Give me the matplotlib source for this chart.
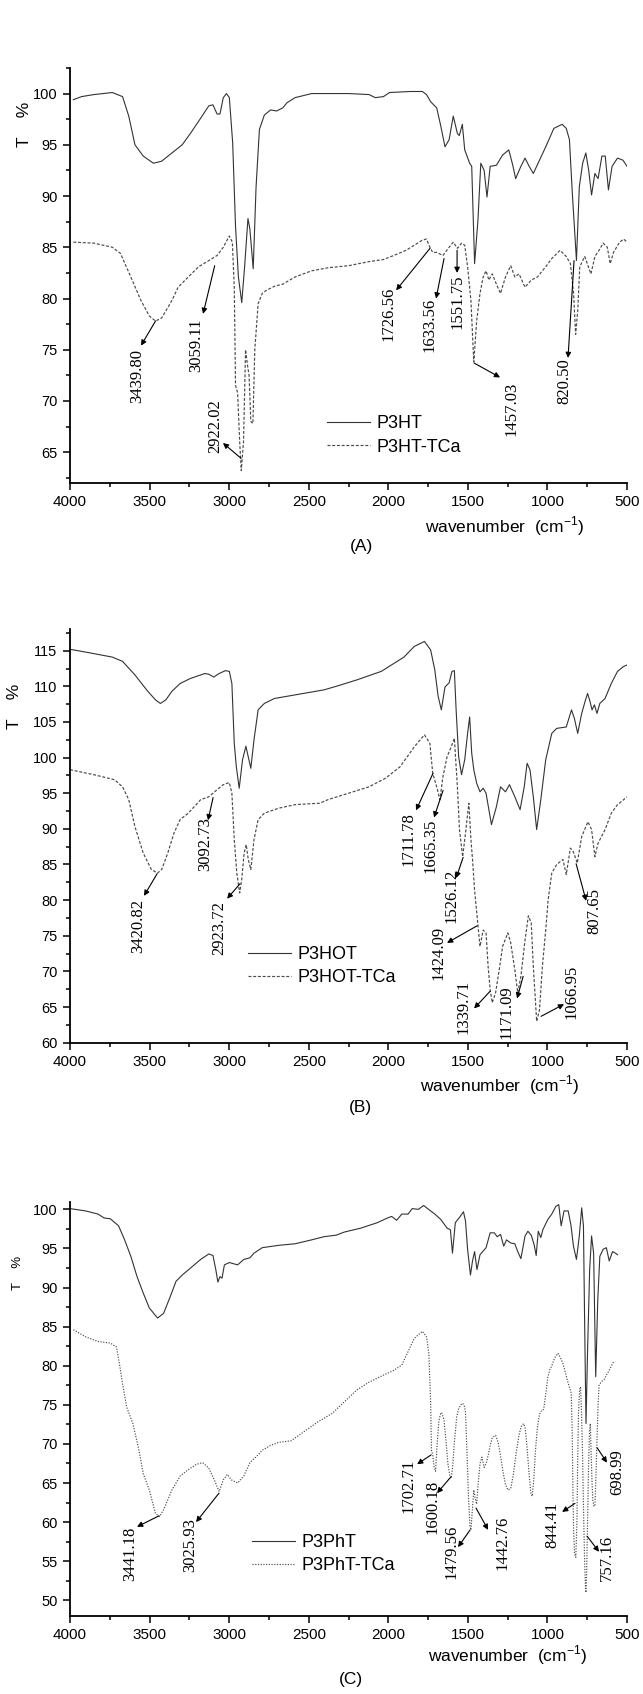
import matplotlib
matplotlib.use('Agg')
import matplotlib.pyplot as plt
from matplotlib.ticker import MultipleLocator

plt.rcParams['font.family'] = ['Liberation Sans', 'DejaVu Sans']
plt.rcParams['mathtext.fontset'] = 'custom'
plt.rcParams['mathtext.rm'] = 'Liberation Sans'

# ---------------- panel A : P3HT ----------------
p3ht = [(3979, 99.4), (3928, 99.7), (3850, 99.9), (3734, 100.1), (3670, 99.7), (3631, 97.8),
        (3592, 95.0), (3540, 93.9), (3476, 93.2), (3424, 93.4), (3360, 94.2), (3295, 95.0),
        (3244, 96.1), (3179, 97.6), (3128, 98.8), (3102, 98.9), (3076, 98.0), (3058, 98.0),
        (3037, 99.6), (3017, 100.0), (2999, 99.6), (2978, 95.2), (2960, 87.0), (2942, 82.1),
        (2921, 79.6), (2903, 83.1), (2882, 87.8), (2870, 86.8), (2849, 82.9), (2831, 90.9),
        (2810, 96.5), (2779, 97.9), (2740, 98.4), (2702, 98.3), (2663, 98.6), (2637, 99.1),
        (2586, 99.6), (2482, 100.0), (2250, 100.0), (2121, 99.9), (2082, 99.6), (2031, 99.7),
        (1992, 100.1), (1863, 100.2), (1786, 100.2), (1760, 99.9), (1734, 99.2), (1696, 98.6),
        (1670, 96.8), (1644, 94.8), (1618, 95.5), (1592, 97.8), (1566, 96.1), (1554, 95.9),
        (1535, 97.0), (1520, 94.5), (1489, 93.2), (1476, 92.9), (1458, 83.4), (1437, 87.6),
        (1419, 93.2), (1398, 92.5), (1380, 89.9), (1360, 92.9), (1321, 93.0), (1282, 94.0),
        (1243, 94.5), (1218, 93.0), (1200, 91.7), (1167, 92.9), (1141, 93.7), (1115, 92.9),
        (1089, 92.2), (1050, 93.5), (1011, 94.8), (960, 96.6), (934, 96.8), (908, 97.0),
        (882, 96.6), (862, 95.5), (844, 90.3), (818, 83.7), (800, 90.9), (779, 93.2),
        (759, 94.2), (741, 92.5), (723, 90.1), (702, 92.2), (682, 91.7), (658, 93.9),
        (637, 93.9), (617, 90.6), (594, 92.9), (560, 93.7), (526, 93.5), (500, 92.9)]

p3ht_tca = [(3979, 85.5), (3850, 85.4), (3734, 85.0), (3683, 84.4), (3618, 82.1), (3554, 79.8),
            (3502, 78.3), (3463, 77.8), (3424, 78.1), (3360, 79.8), (3321, 81.1), (3257, 82.1),
            (3192, 83.1), (3128, 83.7), (3076, 84.2), (3037, 85.0), (2999, 86.1), (2980, 85.5),
            (2968, 81.1), (2960, 71.5), (2947, 70.8), (2934, 66.0), (2924, 63.2), (2910, 66.0),
            (2897, 75.0), (2885, 73.5), (2875, 72.5), (2864, 68.0), (2851, 67.8), (2839, 75.0),
            (2818, 79.5), (2792, 80.5), (2766, 80.8), (2715, 81.2), (2663, 81.4), (2586, 82.1),
            (2482, 82.7), (2379, 83.0), (2250, 83.2), (2121, 83.6), (2031, 83.8), (1966, 84.2),
            (1889, 84.7), (1837, 85.2), (1786, 85.7), (1760, 85.8), (1739, 85.0), (1721, 84.5),
            (1696, 84.5), (1657, 84.2), (1618, 85.0), (1592, 85.5), (1566, 84.9), (1540, 85.4),
            (1520, 85.2), (1502, 83.1), (1481, 79.8), (1463, 73.8), (1445, 77.8), (1424, 80.5),
            (1404, 82.1), (1386, 82.7), (1368, 81.8), (1347, 82.4), (1321, 81.4), (1295, 80.5),
            (1264, 82.1), (1231, 83.2), (1205, 82.1), (1179, 82.4), (1141, 81.1), (1102, 81.8),
            (1063, 82.1), (1011, 83.1), (973, 83.9), (921, 84.7), (882, 84.1), (856, 83.4),
            (836, 80.5), (823, 76.5), (810, 78.8), (797, 83.1), (766, 84.1), (727, 82.4),
            (702, 84.1), (676, 84.7), (650, 85.4), (624, 85.0), (606, 83.4), (585, 84.5),
            (547, 85.5), (521, 85.8), (500, 85.5)]

a_labels = ['3439.80', '3059.11', '2922.02', '1726.56', '1633.56', '1551.75', '1457.03', '820.50']
a_peaks = [(3463, 77.8), (3091, 83.2), (2925, 64.4), (1738, 84.9), (1650, 83.9), (1568, 84.7),
           (1461, 73.7), (833, 83.7)]
a_tips = [(3554, 75.4), (3164, 78.5), (3039, 65.9), (1951, 80.8), (1700, 80.0), (1568, 82.5),
          (1298, 72.3), (871, 74.2)]
a_texts = [(3579, 72.4), (3208, 75.4), (3089, 67.5), (2002, 78.5), (1744, 77.4), (1568, 79.7),
           (1229, 69.2), (896, 71.9)]

# ---------------- panel B : P3HOT ----------------
p3hot = [(4000, 115.2), (3876, 114.7), (3734, 114.1), (3670, 113.5), (3592, 111.6), (3515, 109.4),
         (3463, 108.1), (3432, 107.6), (3398, 108.1), (3360, 109.3), (3308, 110.4), (3244, 111.1),
         (3153, 111.8), (3128, 111.7), (3097, 111.3), (3063, 111.8), (3024, 112.2), (2999, 112.1),
         (2983, 110.4), (2968, 102.0), (2955, 98.7), (2937, 95.7), (2916, 99.7), (2895, 101.6),
         (2880, 100.1), (2864, 98.5), (2844, 102.5), (2818, 106.7), (2779, 107.6), (2715, 108.3),
         (2637, 108.6), (2534, 109.0), (2405, 109.5), (2328, 110.0), (2198, 110.9), (2044, 112.1),
         (1902, 114.1), (1837, 115.6), (1773, 116.3), (1734, 115.1), (1708, 112.3), (1687, 108.6),
         (1667, 106.7), (1644, 109.9), (1618, 110.5), (1600, 112.1), (1585, 112.2), (1574, 106.7),
         (1558, 100.1), (1540, 97.6), (1520, 99.7), (1502, 103.4), (1489, 105.7), (1476, 100.6),
         (1463, 98.3), (1445, 96.4), (1424, 95.2), (1404, 95.7), (1386, 95.0), (1352, 90.6),
         (1321, 93.1), (1295, 95.9), (1264, 95.2), (1239, 96.2), (1205, 94.5), (1172, 92.7),
         (1146, 95.9), (1128, 99.2), (1110, 98.3), (1089, 94.5), (1068, 89.9), (1042, 94.1),
         (1011, 99.7), (973, 103.4), (942, 104.1), (882, 104.3), (849, 106.7), (831, 105.5),
         (810, 103.4), (785, 106.2), (761, 108.1), (748, 109.0), (733, 107.9), (720, 106.7),
         (705, 107.4), (689, 106.2), (671, 107.6), (638, 108.3), (599, 110.4), (560, 112.1),
         (521, 112.8), (500, 113.0)]

p3hot_tca = [(4000, 98.3), (3850, 97.6), (3721, 96.9), (3670, 95.9), (3631, 94.1), (3592, 90.3),
             (3540, 86.6), (3489, 84.3), (3450, 83.8), (3424, 84.3), (3386, 86.6), (3347, 89.4),
             (3308, 91.3), (3257, 92.2), (3179, 94.1), (3128, 94.5), (3076, 95.5), (3037, 96.2),
             (2999, 96.5), (2983, 95.0), (2968, 88.5), (2952, 83.8), (2934, 81.0), (2921, 82.9),
             (2906, 86.6), (2893, 87.8), (2880, 85.7), (2864, 84.3), (2844, 88.5), (2818, 91.3),
             (2779, 92.2), (2689, 92.9), (2586, 93.4), (2431, 93.6), (2379, 94.1), (2250, 95.0),
             (2121, 95.9), (2018, 97.1), (1927, 98.7), (1837, 101.5), (1773, 103.2), (1739, 102.0),
             (1721, 97.8), (1696, 95.9), (1676, 94.1), (1657, 97.3), (1631, 100.1), (1605, 101.5),
             (1585, 102.7), (1566, 95.9), (1553, 89.9), (1533, 86.1), (1515, 89.4), (1494, 93.6),
             (1481, 88.5), (1471, 85.7), (1458, 81.4), (1437, 76.5), (1424, 73.5), (1404, 75.8),
             (1386, 75.4), (1373, 70.7), (1360, 67.4), (1347, 65.6), (1326, 67.0), (1300, 70.7),
             (1282, 73.5), (1249, 75.4), (1231, 74.0), (1205, 70.2), (1187, 67.0), (1167, 69.3),
             (1141, 74.4), (1120, 77.8), (1102, 76.8), (1089, 70.7), (1068, 63.0), (1050, 64.6),
             (1032, 70.7), (1011, 75.8), (996, 80.0), (973, 83.8), (942, 85.0), (903, 85.7),
             (882, 83.6), (856, 87.3), (838, 86.8), (813, 85.2), (785, 88.9), (746, 91.0),
             (723, 89.9), (702, 86.1), (682, 88.0), (638, 89.9), (599, 92.2), (560, 93.4),
             (521, 94.1), (500, 94.5)]

b_labels = ['3420.82', '3092.73', '2923.72', '1711.78', '1665.35', '1526.12', '1424.09',
            '1339.71', '1171.09', '1066.95', '807.65']
b_peaks = [(3453, 83.7), (3101, 94.4), (2932, 82.3), (1719, 97.8), (1656, 95.4), (1530, 86.0),
           (1442, 76.4), (1361, 67.2), (1153, 69.3), (1040, 63.7), (820, 85.1)]
b_tips = [(3535, 80.6), (3133, 91.2), (3013, 80.2), (1826, 92.6), (1713, 91.6), (1574, 83.1),
          (1631, 74.0), (1461, 64.8), (1191, 66.2), (896, 65.4), (757, 79.9)]
b_texts = [(3573, 76.4), (3152, 87.8), (3064, 76.1), (1876, 88.5), (1738, 87.6), (1606, 80.6),
           (1687, 72.6), (1530, 65.0), (1260, 64.3), (852, 67.1), (707, 78.5)]

# ---------------- panel C : P3PhT ----------------
p3pht = [(4000, 100.1), (3902, 99.8), (3824, 99.4), (3786, 98.9), (3747, 98.8), (3695, 97.9),
         (3657, 96.1), (3618, 94.0), (3579, 91.4), (3540, 89.3), (3502, 87.4), (3450, 86.1),
         (3412, 86.7), (3373, 88.7), (3334, 90.8), (3295, 91.6), (3231, 92.7), (3179, 93.6),
         (3128, 94.3), (3102, 94.1), (3084, 92.3), (3071, 90.7), (3058, 91.4), (3045, 91.2),
         (3030, 92.9), (2999, 93.2), (2947, 92.9), (2908, 93.6), (2870, 93.8), (2844, 94.4),
         (2792, 95.1), (2689, 95.4), (2586, 95.6), (2482, 96.1), (2405, 96.5), (2328, 96.7),
         (2276, 97.1), (2173, 97.6), (2069, 98.3), (2005, 98.9), (1979, 99.1), (1948, 98.6),
         (1915, 99.4), (1876, 99.4), (1850, 100.1), (1811, 100.0), (1778, 100.5), (1747, 100.0),
         (1708, 99.4), (1670, 98.7), (1631, 97.6), (1610, 97.4), (1597, 94.4), (1579, 98.3),
         (1548, 99.1), (1528, 99.7), (1515, 98.5), (1502, 94.9), (1484, 91.6), (1471, 93.4),
         (1458, 94.6), (1443, 92.3), (1424, 94.2), (1386, 95.1), (1360, 97.0), (1334, 97.0),
         (1316, 96.5), (1295, 96.8), (1275, 95.3), (1257, 96.1), (1231, 95.7), (1205, 95.6),
         (1187, 94.6), (1167, 93.7), (1141, 96.6), (1123, 97.2), (1102, 96.7), (1084, 95.5),
         (1071, 94.1), (1058, 97.2), (1042, 96.4), (1029, 97.4), (998, 98.7), (973, 99.4),
         (947, 100.4), (929, 100.6), (914, 97.9), (896, 99.8), (870, 99.8), (852, 97.9),
         (837, 95.3), (818, 93.6), (800, 96.6), (785, 100.2), (774, 97.9), (767, 86.3),
         (758, 72.6), (748, 82.0), (735, 92.3), (723, 96.6), (710, 94.4), (697, 78.6),
         (684, 88.4), (671, 94.0), (650, 94.9), (630, 95.1), (612, 93.4), (591, 94.6),
         (573, 94.4), (560, 94.2)]

p3pht_tca = [(3979, 84.6), (3902, 83.7), (3824, 83.1), (3747, 82.9), (3708, 82.4), (3690, 80.3),
             (3670, 77.7), (3644, 74.7), (3605, 72.6), (3567, 69.2), (3540, 66.2), (3502, 64.1),
             (3463, 61.1), (3437, 60.7), (3412, 61.6), (3360, 64.1), (3308, 65.9), (3257, 66.7),
             (3205, 67.4), (3166, 67.6), (3128, 66.9), (3089, 65.2), (3063, 63.9), (3037, 65.4),
             (3012, 66.1), (2986, 65.4), (2947, 65.0), (2908, 65.9), (2870, 67.6), (2818, 68.6),
             (2792, 69.2), (2740, 69.8), (2689, 70.2), (2611, 70.4), (2534, 71.5), (2444, 72.8),
             (2353, 73.9), (2276, 75.4), (2198, 76.9), (2121, 77.9), (2031, 78.8), (1966, 79.4),
             (1915, 80.1), (1876, 81.8), (1837, 83.5), (1786, 84.4), (1760, 83.7), (1745, 81.5),
             (1734, 75.2), (1729, 69.2), (1721, 68.6), (1712, 67.0), (1703, 66.5), (1695, 69.5),
             (1682, 73.0), (1670, 74.0), (1662, 73.9), (1650, 73.0), (1636, 70.0), (1626, 67.5),
             (1613, 65.9), (1605, 65.6), (1596, 67.0), (1584, 70.5), (1570, 73.5), (1558, 74.5),
             (1545, 75.0), (1533, 75.2), (1522, 74.8), (1515, 74.0), (1505, 68.5), (1496, 63.0),
             (1487, 59.5), (1481, 59.0), (1472, 61.5), (1463, 64.1), (1454, 63.0), (1445, 62.3),
             (1435, 65.0), (1424, 67.5), (1412, 68.3), (1398, 67.0), (1385, 67.5), (1373, 68.5),
             (1360, 69.8), (1347, 70.8), (1326, 71.1), (1310, 70.2), (1295, 68.5), (1280, 66.5),
             (1264, 64.8), (1248, 64.1), (1231, 64.3), (1215, 66.0), (1197, 68.8), (1180, 71.0),
             (1166, 72.2), (1150, 72.6), (1140, 72.0), (1128, 69.5), (1115, 66.0), (1105, 63.8),
             (1096, 63.3), (1086, 65.5), (1076, 69.0), (1064, 72.0), (1050, 73.8), (1036, 74.3),
             (1024, 74.4), (1010, 76.5), (998, 78.5), (985, 79.5), (973, 80.0), (955, 81.0),
             (934, 81.6), (918, 81.0), (903, 80.3), (886, 79.0), (869, 77.7), (858, 77.0),
             (851, 76.5), (845, 72.0), (840, 64.0), (836, 59.0), (830, 56.0), (822, 55.5),
             (815, 60.0), (810, 68.0), (805, 74.0), (798, 77.0), (792, 77.3), (786, 74.0),
             (779, 68.0), (772, 60.0), (766, 54.5), (761, 51.5), (758, 51.0), (754, 53.5),
             (748, 60.0), (742, 67.0), (736, 71.5), (731, 72.6), (726, 69.0), (720, 65.0),
             (715, 62.8), (708, 62.0), (702, 62.2), (696, 65.5), (689, 70.5), (682, 75.0),
             (676, 77.5), (660, 78.0), (645, 78.2), (630, 78.8), (612, 79.4), (598, 80.0),
             (585, 80.5)]

c_labels = ['3441.18', '3025.93', '1702.71', '1600.18', '1479.56', '1442.76', '844.41',
            '757.16', '698.99']
c_peaks = [(3441, 60.8), (3064, 63.7), (1731, 68.6), (1606, 65.8), (1486, 59.0), (1449, 61.8),
           (827, 62.4), (751, 58.2), (688, 69.5)]
c_tips = [(3579, 59.4), (3208, 60.0), (1819, 67.4), (1694, 63.7), (1562, 56.8), (1373, 59.0),
          (908, 61.3), (676, 56.2), (626, 67.6)]
c_texts = [(3623, 56.0), (3246, 57.1), (1876, 64.6), (1725, 61.9), (1606, 56.2), (1285, 57.3),
           (971, 59.6), (626, 55.4), (563, 66.4)]

panels = [
    dict(rect=[0.1089, 0.7149, 0.8663, 0.2450], ylim=(62, 102.5), yticks=range(65, 101, 5),
         curves=(p3ht, p3ht_tca), names=('P3HT', 'P3HT-TCa'), style=(0, (2.5, 1.5)),
         ann=(a_labels, a_peaks, a_tips, a_texts), leg=(0.461, 0.1145), tag='(A)',
         ylab=(-0.081, 0.863, 12.5), xl=(0.781, -0.104), tg=(0.524, -0.154)),
    dict(rect=[0.1089, 0.3845, 0.8663, 0.2440], ylim=(60, 118), yticks=range(60, 116, 5),
         curves=(p3hot, p3hot_tca), names=('P3HOT', 'P3HOT-TCa'), style=(0, (2.5, 1.5)),
         ann=(b_labels, b_peaks, b_tips, b_texts), leg=(0.3196, 0.1855), tag='(B)',
         ylab=(-0.100, 0.814, 12.5), xl=(0.772, -0.102), tg=(0.521, -0.158)),
    dict(rect=[0.1089, 0.0461, 0.8663, 0.2446], ylim=(48, 101), yticks=range(50, 101, 5),
         curves=(p3pht, p3pht_tca), names=('P3PhT', 'P3PhT-TCa'), style=(0, (1.0, 1.3)),
         ann=(c_labels, c_peaks, c_tips, c_texts), leg=(0.3268, 0.1489), tag='(C)',
         ylab=(-0.093, 0.828, 9.5), xl=(0.785, -0.094), tg=(0.505, -0.154)),
]

fig = plt.figure(figsize=(6.43, 16.94), dpi=100)

for p in panels:
    ax = fig.add_axes(p['rect'])
    solid, tca = p['curves']
    ax.plot([w for w, t in solid], [t for w, t in solid], color='#333333', lw=0.8,
            label=p['names'][0])
    ax.plot([w for w, t in tca], [t for w, t in tca], color='#4a4a4a', lw=0.85,
            linestyle=p['style'], label=p['names'][1])

    ax.set_xlim(4000, 500)
    ax.set_ylim(*p['ylim'])
    ax.set_xticks(range(4000, 499, -500))
    ax.set_yticks(list(p['yticks']))
    ax.xaxis.set_minor_locator(MultipleLocator(250))
    ax.yaxis.set_minor_locator(MultipleLocator(2.5))
    ax.tick_params(which='major', direction='out', length=5, width=1.1, pad=4)
    ax.tick_params(which='minor', direction='out', length=3, width=1.1)
    ax.tick_params(axis='x', labelsize=11)
    ax.tick_params(axis='y', labelsize=10.5)
    for s in ('top', 'right'):
        ax.spines[s].set_visible(False)
    for s in ('left', 'bottom'):
        ax.spines[s].set_linewidth(1.3)

    # peak labels with arrows pointing to them
    labels, peaks, tips, texts = p['ann']
    for lab, pk, tp, tx in zip(labels, peaks, tips, texts):
        ax.annotate('', xy=tp, xytext=pk,
                    arrowprops=dict(arrowstyle='-|>', color='black', lw=0.8,
                                    mutation_scale=8, shrinkA=0, shrinkB=0))
        ax.text(tx[0], tx[1], lab, rotation=90, ha='center', va='center',
                family=['Liberation Serif'], fontsize=12)

    ax.legend(loc='center left', bbox_to_anchor=p['leg'], frameon=False, fontsize=13,
              handlelength=2.4, handletextpad=0.35, labelspacing=0.35, borderpad=0,
              borderaxespad=0)

    ax.text(p['ylab'][0], p['ylab'][1], 'T    %', rotation=90, ha='center', va='center',
            fontsize=p['ylab'][2], transform=ax.transAxes)
    ax.text(p['xl'][0], p['xl'][1], r'wavenumber  (cm$^{\mathregular{-1}}$)', ha='center',
            va='center', fontsize=12.5, transform=ax.transAxes)
    ax.text(p['tg'][0], p['tg'][1], p['tag'], ha='center', va='center', fontsize=12.5,
            transform=ax.transAxes)

fig.savefig('out.png', dpi=100)
